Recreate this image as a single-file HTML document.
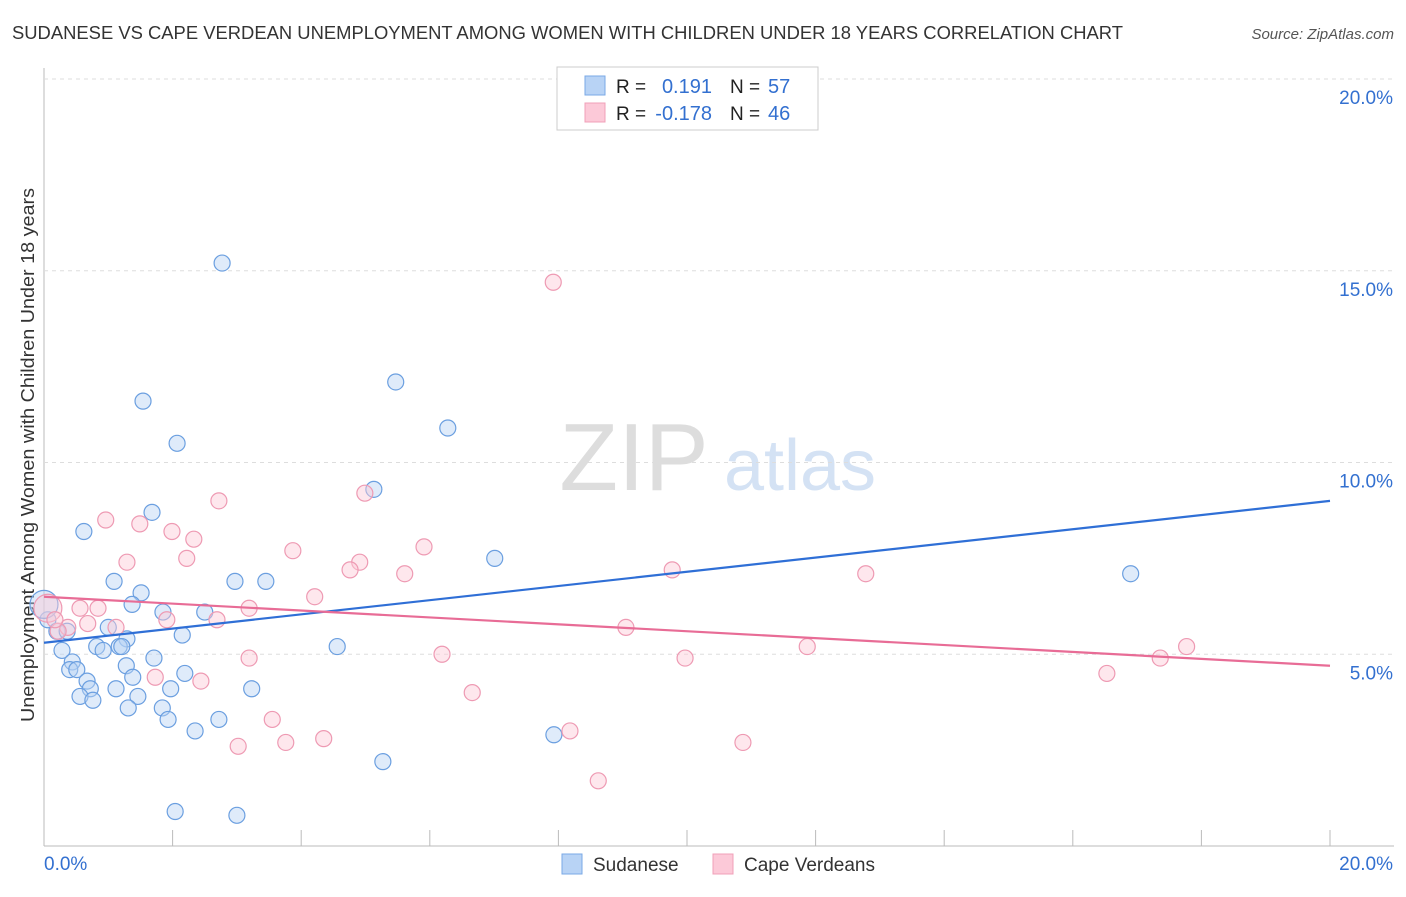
<!DOCTYPE html>
<html><head><meta charset="utf-8"><style>
body{margin:0;background:#fff;font-family:"Liberation Sans",sans-serif}
svg text{font-family:"Liberation Sans",sans-serif}
</style></head><body>
<svg id="c" width="1406" height="892" xmlns="http://www.w3.org/2000/svg">
<text x="12" y="39" font-size="18" fill="#333" textLength="1111" lengthAdjust="spacingAndGlyphs">SUDANESE VS CAPE VERDEAN UNEMPLOYMENT AMONG WOMEN WITH CHILDREN UNDER 18 YEARS CORRELATION CHART</text>
<text x="1394" y="39" font-size="15" fill="#555" text-anchor="end" font-style="italic">Source: ZipAtlas.com</text>
<text x="634" y="490" font-size="96" fill="#ddd" font-family="Liberation Serif" text-anchor="middle">ZIP</text>
<text x="800" y="490" font-size="72" fill="#d4e2f4" text-anchor="middle">atlas</text>
<text transform="translate(34,455) rotate(-90)" font-size="18" fill="#333" text-anchor="middle" textLength="534" lengthAdjust="spacingAndGlyphs">Unemployment Among Women with Children Under 18 years</text>
<g id="grid"></g><g id="pts"></g><g id="lines"></g>
<g>
<rect x="557" y="67" width="261" height="63" fill="#fff" stroke="#ccc"/>
<rect x="585" y="76" width="20" height="19" fill="#b8d3f5" stroke="#7aa8e6"/>
<rect x="585" y="103" width="20" height="19" fill="#fcc9d8" stroke="#f0a0b8"/>
<text x="616" y="93" font-size="19" fill="#222">R =</text><text x="712" y="93" font-size="20" fill="#3370d0" text-anchor="end">0.191</text>
<text x="730" y="93" font-size="19" fill="#222">N =</text><text x="768" y="93" font-size="20" fill="#3370d0">57</text>
<text x="616" y="120" font-size="19" fill="#222">R =</text><text x="712" y="120" font-size="20" fill="#3370d0" text-anchor="end">-0.178</text>
<text x="730" y="120" font-size="19" fill="#222">N =</text><text x="768" y="120" font-size="20" fill="#3370d0">46</text>
</g>
<g>
<rect x="562" y="854" width="20" height="20" fill="#b8d3f5" stroke="#7aa8e6"/><text x="593" y="871" font-size="19" fill="#333">Sudanese</text>
<rect x="713" y="854" width="20" height="20" fill="#fcc9d8" stroke="#f0a0b8"/><text x="744" y="871" font-size="19" fill="#333">Cape Verdeans</text>
</g>
</svg>
<script>
const sudX=[2.77,1.54,2.07,5.47,6.28,5.13,1.68,0.62,7.01,16.9,1.09,2.97,3.45,1.51,1.37,1.85,2.5,0.06,0.2,0.36,1.0,2.15,1.29,4.56,0.82,1.17,0.92,1.21,0.28,1.71,0.44,1.28,0.4,0.51,2.19,1.38,0.67,0.72,1.12,1.97,3.23,0.56,0.76,1.46,1.31,1.84,1.93,2.72,2.35,7.93,5.27,2.04,3.0,0.0];
const sudY=[15.2,11.6,10.5,12.1,10.9,9.3,8.7,8.2,7.5,7.1,6.9,6.9,6.9,6.6,6.3,6.1,6.1,5.9,5.6,5.6,5.7,5.5,5.4,5.2,5.2,5.2,5.1,5.2,5.1,4.9,4.8,4.7,4.6,4.6,4.5,4.4,4.3,4.1,4.1,4.1,4.1,3.9,3.8,3.9,3.6,3.6,3.3,3.3,3.0,2.9,2.2,0.9,0.8,6.3];
const cvX=[7.92,2.72,4.99,0.96,1.49,1.99,2.33,5.91,3.87,1.29,2.22,4.91,4.76,5.61,9.77,12.78,4.21,0.56,0.84,3.19,1.91,2.69,1.12,0.68,0.37,9.05,11.87,17.77,17.36,6.19,3.19,9.97,16.53,1.73,2.44,6.66,3.55,8.18,4.35,3.76,3.02,10.87,8.62,0.06,0.22,0.17];
const cvY=[14.7,9.0,9.2,8.5,8.4,8.2,8.0,7.8,7.7,7.4,7.5,7.4,7.2,7.1,7.2,7.1,6.5,6.2,6.2,6.2,5.9,5.9,5.7,5.8,5.7,5.7,5.2,5.2,4.9,5.0,4.9,4.9,4.5,4.4,4.3,4.0,3.3,3.0,2.8,2.7,2.6,2.7,1.7,6.2,5.6,5.9];
const sudLine=[5.3,9.0], cvLine=[6.5,4.7];
const yTicks=[5,10,15,20];
const xs=v=>44+v*64.3, ys=v=>846-v*38.35;
const NS="http://www.w3.org/2000/svg";
function mk(t,a,p){const e=document.createElementNS(NS,t);for(const k in a)e.setAttribute(k,a[k]);p.appendChild(e);return e;}
const g=document.getElementById('grid');
mk('line',{x1:44,y1:68,x2:44,y2:846,stroke:'#bbb'},g);
mk('line',{x1:44,y1:846,x2:1394,y2:846,stroke:'#bbb'},g);
yTicks.forEach(t=>{const l=mk('line',{x1:44,y1:ys(t),x2:1394,y2:ys(t),stroke:'#ddd','stroke-dasharray':'4,4'},g);


const tx=mk('text',{x:1393,y:ys(t)+25,'font-size':19,fill:'#3370d0','text-anchor':'end'},g);tx.textContent=t.toFixed(1)+'%';

});
for(let i=0;i<=10;i++){const l=mk('line',{x1:xs(i*2),y1:830,x2:xs(i*2),y2:846,stroke:'#bbb'},g);

}
const x0=mk('text',{x:44,y:870,'font-size':19,fill:'#3370d0'},g);x0.textContent='0.0%';


const x1=mk('text',{x:1393,y:870,'font-size':19,fill:'#3370d0','text-anchor':'end'},g);x1.textContent='20.0%';


const p=document.getElementById('pts');
function pts(X,Y,f,s,n){X.forEach((x,i)=>{const big=(x===0&&i===X.length-1)||(x===0.06&&i===X.length-3);
const c=mk('circle',{cx:xs(x),cy:ys(Y[i]),r:big?14:8,fill:f,'fill-opacity':0.45,stroke:s,'stroke-width':1.2},p);

});}
pts(sudX,sudY,'#b8d3f5','#6b9fe0','sudanese-point');
pts(cvX,cvY,'#fcc9d8','#ee9ab3','cape-verdean-point');
const L=document.getElementById('lines');
const a=mk('line',{x1:xs(0),y1:ys(sudLine[0]),x2:xs(20),y2:ys(sudLine[1]),stroke:'#2f6fd6','stroke-width':2.2},L);


const b=mk('line',{x1:xs(0),y1:ys(cvLine[0]),x2:xs(20),y2:ys(cvLine[1]),stroke:'#e86c96','stroke-width':2.2},L);


</script>
</body></html>
